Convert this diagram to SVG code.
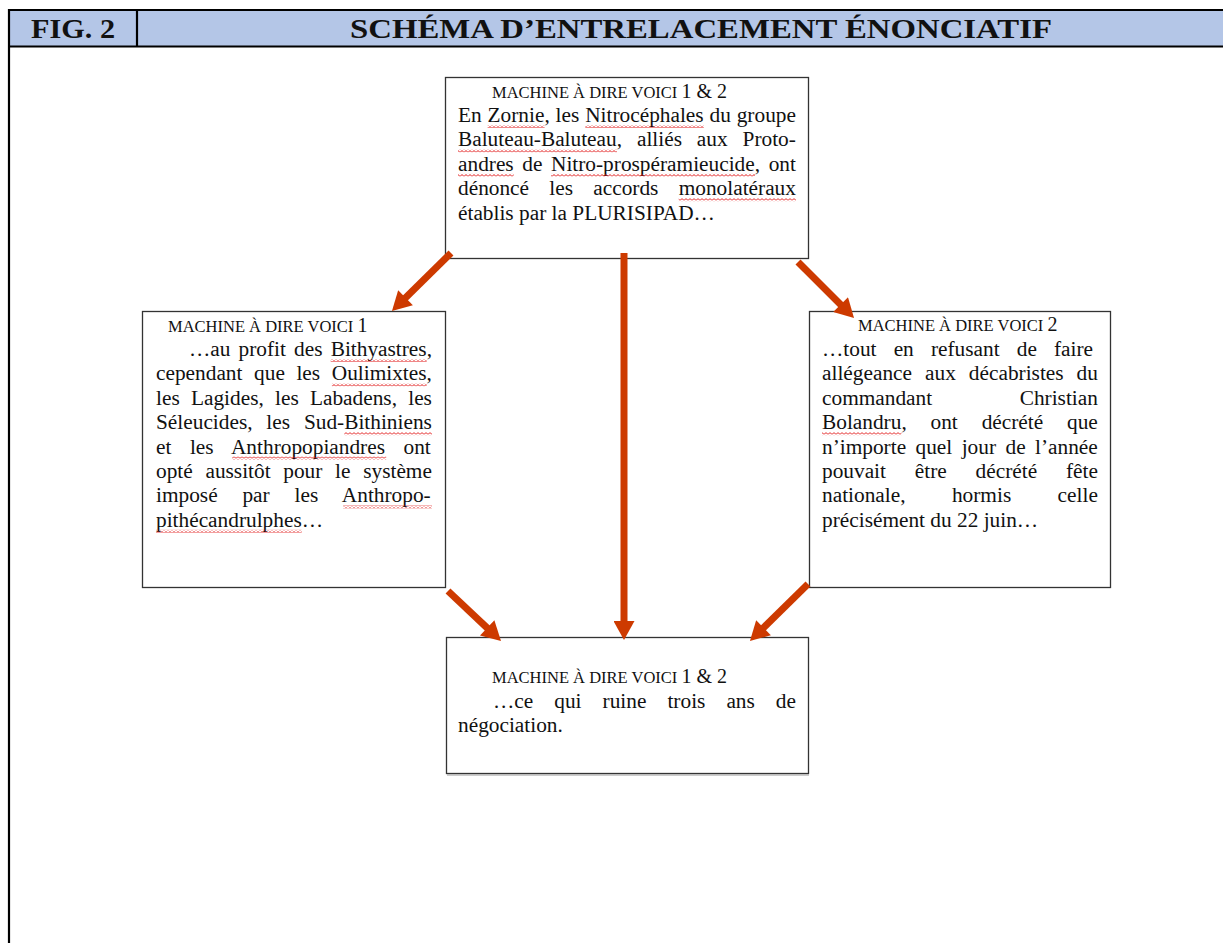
<svg xmlns="http://www.w3.org/2000/svg" width="1223" height="943" viewBox="0 0 1223 943">
<style>
.t{font-family:"Liberation Serif","Times New Roman",serif;fill:#111}
.b{font-size:21.33px}
.h{font-size:16.5px}
.d{font-size:20px}
.ttl{font-family:"Liberation Serif","Times New Roman",serif;font-weight:bold;font-size:28px;fill:#111}
.box{fill:#fff;stroke:#333;stroke-width:1.3}
.frame{stroke:#000;stroke-width:2.2;fill:none}
.arr{stroke:#CD3A00;stroke-width:7;fill:none;marker-end:url(#ah)}
.wv{fill:url(#wave)}
</style>
<defs>
<marker id="ah" markerUnits="userSpaceOnUse" markerWidth="20" markerHeight="21" viewBox="0 0 19 21" refX="1" refY="10.5" orient="auto">
<path d="M0,0 L19,10.5 L0,21 z" fill="#CD3A00"/>
</marker>
<pattern id="wave" patternUnits="userSpaceOnUse" width="4" height="3">
<polyline points="0,2.5 2,0.5 4,2.5" fill="none" stroke="#E01010" stroke-width="1"/>
</pattern>
</defs>
<rect width="1223" height="943" fill="#fff"/>
<g id="header">
<rect x="9" y="10" width="1214" height="36" fill="#B4C6E7"/>
<line class="frame" x1="9" y1="10" x2="1223" y2="10"/>
<line class="frame" x1="9" y1="46.5" x2="1223" y2="46.5"/>
<line class="frame" x1="9" y1="9" x2="9" y2="943"/>
<line class="frame" x1="137" y1="10" x2="137" y2="46.5"/>
<text class="ttl" x="31" y="37.5" textLength="84" lengthAdjust="spacingAndGlyphs">FIG. 2</text>
<text class="ttl" x="350" y="37.5" textLength="702" lengthAdjust="spacingAndGlyphs">SCHÉMA D’ENTRELACEMENT ÉNONCIATIF</text>
</g>
<g id="node-top">
<rect class="box" x="445.5" y="77.5" width="363" height="181"/>
<text class="t" x="492" y="98"><tspan class="h">MACHINE À DIRE VOICI </tspan><tspan class="d">1 &amp; 2</tspan></text>
<text class="t b" x="458" y="122" word-spacing="0.54">En Zornie, les Nitrocéphales du groupe</text>
<text class="t b" x="458" y="146.4" word-spacing="9.57">Baluteau-Baluteau, alliés aux Proto-</text>
<text class="t b" x="458" y="170.8" word-spacing="3.27">andres de Nitro-prospéramieucide, ont</text>
<text class="t b" x="458" y="195.2" word-spacing="14.93">dénoncé les accords monolatéraux</text>
<text class="t b" x="458" y="219.6">établis par la PLURISIPAD…</text>
<rect class="wv" x="487.6" y="125" width="57" height="3"/>
<rect class="wv" x="585.3" y="125" width="118.5" height="3"/>
<rect class="wv" x="458" y="149.4" width="159" height="3"/>
<rect class="wv" x="458" y="173.8" width="55.7" height="3"/>
<rect class="wv" x="551" y="173.8" width="204" height="3"/>
<rect class="wv" x="678.7" y="198.2" width="117.3" height="3"/>
</g>
<g id="node-left">
<rect class="box" x="142.5" y="311.5" width="303" height="276"/>
<text class="t" x="168" y="332"><tspan class="h">MACHINE À DIRE VOICI </tspan><tspan class="d">1</tspan></text>
<text class="t b" x="189" y="356" word-spacing="2.8">…au profit des Bithyastres,</text>
<text class="t b" x="156" y="380.4" word-spacing="6.27">cependant que les Oulimixtes,</text>
<text class="t b" x="156" y="404.8" word-spacing="5.9">les Lagides, les Labadens, les</text>
<text class="t b" x="156" y="429.2" word-spacing="8.5">Séleucides, les Sud-Bithiniens</text>
<text class="t b" x="156" y="453.6" word-spacing="13.2">et les Anthropopiandres ont</text>
<text class="t b" x="156" y="478" word-spacing="7.37">opté aussitôt pour le système</text>
<text class="t b" x="156" y="502.4" word-spacing="19.5">imposé par les Anthropo-</text>
<text class="t b" x="156" y="526.8">pithécandrulphes…</text>
<rect class="wv" x="330.7" y="359" width="96" height="3"/>
<rect class="wv" x="331.9" y="383.4" width="94.8" height="3"/>
<rect class="wv" x="344.3" y="432.2" width="87.7" height="3"/>
<rect class="wv" x="232.2" y="456.6" width="154" height="3"/>
<rect class="wv" x="343.1" y="505.4" width="88.9" height="3"/>
<rect class="wv" x="156" y="529.8" width="145.7" height="3"/>
</g>
<g id="node-right">
<rect class="box" x="809.5" y="311.5" width="301" height="276"/>
<text class="t" x="858" y="331"><tspan class="h">MACHINE À DIRE VOICI </tspan><tspan class="d">2</tspan></text>
<text class="t b" x="822" y="356" word-spacing="11.8">…tout en refusant de faire</text>
<text class="t b" x="822" y="380.4" word-spacing="7.7">allégeance aux décabristes du</text>
<text class="t b" x="822" y="404.8" word-spacing="82.2">commandant Christian</text>
<text class="t b" x="822" y="429.2" word-spacing="18.5">Bolandru, ont décrété que</text>
<text class="t b" x="822" y="453.6" word-spacing="4.1">n’importe quel jour de l’année</text>
<text class="t b" x="822" y="478" word-spacing="23.5">pouvait être décrété fête</text>
<text class="t b" x="822" y="502.4" word-spacing="41.1">nationale, hormis celle</text>
<text class="t b" x="822" y="526.8">précisément du 22 juin…</text>
<rect class="wv" x="822" y="432.2" width="79.4" height="3"/>
</g>
<g id="node-bottom">
<rect class="box" x="446.5" y="637.5" width="362" height="136"/>
<line x1="447" y1="775" x2="809" y2="775" stroke="#999" stroke-width="1"/>
<text class="t" x="492" y="683"><tspan class="h">MACHINE À DIRE VOICI </tspan><tspan class="d">1 &amp; 2</tspan></text>
<text class="t b" x="493" y="708" word-spacing="15.7">…ce qui ruine trois ans de</text>
<text class="t b" x="458" y="732.4">négociation.</text>
</g>
<g id="connectors">
<line class="arr" x1="451" y1="253" x2="404.8" y2="298.4"/>
<line class="arr" x1="624" y1="253" x2="624" y2="622"/>
<line class="arr" x1="798" y1="262" x2="841.3" y2="305.3"/>
<line class="arr" x1="448" y1="591" x2="487.9" y2="628.6"/>
<line class="arr" x1="808" y1="584" x2="762.8" y2="628.4"/>
</g>
</svg>
